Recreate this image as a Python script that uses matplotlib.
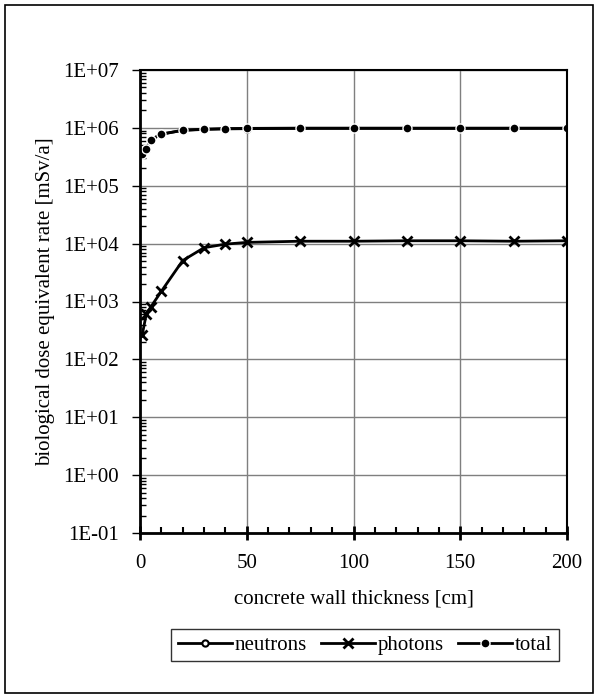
import matplotlib
matplotlib.use("Agg")
import matplotlib.pyplot as plt
from matplotlib.ticker import FixedLocator, LogLocator, NullFormatter, MultipleLocator
from matplotlib.patches import Rectangle

plt.rcParams['font.family'] = ['Liberation Serif', 'DejaVu Serif']

# wall thickness [cm]
thickness = [1, 3, 5, 10, 20, 30, 40, 50, 75, 100, 125, 150, 175, 200]
# dose rates [mSv/a]
photons = [260, 620, 800, 1500, 5100, 8500, 9800, 10500, 11000, 11000, 11200, 11200, 11000, 11200]
total = [360000, 440000, 620000, 780000, 910000, 950000, 970000, 980000, 990000,
         990000, 990000, 990000, 990000, 990000]
neutrons = [t - p for t, p in zip(total, photons)]

ytick_vals = [1e-1, 1e0, 1e1, 1e2, 1e3, 1e4, 1e5, 1e6, 1e7]
ytick_labels = ["1E-01", "1E+00", "1E+01", "1E+02", "1E+03", "1E+04", "1E+05", "1E+06", "1E+07"]

fig = plt.figure(figsize=(5.98, 6.98), dpi=100)
fig.patches.append(Rectangle((5 / 598, 5 / 698), 588 / 598, 688 / 698, transform=fig.transFigure,
                             fill=False, edgecolor="black", linewidth=1.2))
ax = fig.add_axes([140 / 598, 1 - 533 / 698, 427 / 598, 463 / 698])

ax.plot(thickness, neutrons, color="black", linewidth=2, marker="o", markersize=4.5,
        markerfacecolor="white", markeredgecolor="black", markeredgewidth=1.5, label="neutrons")
ax.plot(thickness, photons, color="black", linewidth=2, marker="x", markersize=6.5,
        markeredgewidth=2, label="photons")
ax.plot(thickness, total, color="black", linewidth=2, marker="o", markersize=6.5,
        markerfacecolor="black", markeredgecolor="white", markeredgewidth=1, label="total")

ax.set_yscale("log")
ax.set_ylim(1e-1, 1e7)
ax.set_xlim(0, 200)
ax.yaxis.set_major_locator(FixedLocator(ytick_vals))
ax.set_yticks(ytick_vals)
ax.set_yticklabels(ytick_labels)
ax.yaxis.set_minor_locator(LogLocator(base=10, subs=range(2, 10), numticks=20))
ax.yaxis.set_minor_formatter(NullFormatter())
ax.xaxis.set_major_locator(MultipleLocator(50))
ax.xaxis.set_minor_locator(MultipleLocator(10))

ax.grid(True, which="major", color="#7f7f7f", linewidth=1)
ax.set_axisbelow(True)
for s in ax.spines.values():
    s.set_linewidth(2)
ax.spines["top"].set_linewidth(1.5)
ax.spines["right"].set_linewidth(1.5)

ax.tick_params(axis="y", which="major", direction="out", length=6, width=1, labelsize=15, pad=9)
ax.tick_params(axis="y", which="minor", direction="in", length=4, width=1)
ax.tick_params(axis="x", which="major", direction="inout", length=10, width=2, labelsize=15, pad=10)
ax.tick_params(axis="x", which="minor", direction="in", length=4, width=1.5)

ax.set_xlabel("concrete wall thickness [cm]", fontsize=15, labelpad=12)
ax.set_ylabel("biological dose equivalent rate [mSv/a]", fontsize=15, labelpad=6)

leg = fig.legend(loc="center", bbox_to_anchor=(365 / 598, 1 - 645 / 698), ncol=3, fontsize=15,
                 frameon=True, fancybox=False, edgecolor="black", handlelength=2.6,
                 handletextpad=0.15, columnspacing=0.65, borderpad=0.3, markerscale=1.0)
leg.get_frame().set_linewidth(1)

fig.savefig("out.png", dpi=100)
